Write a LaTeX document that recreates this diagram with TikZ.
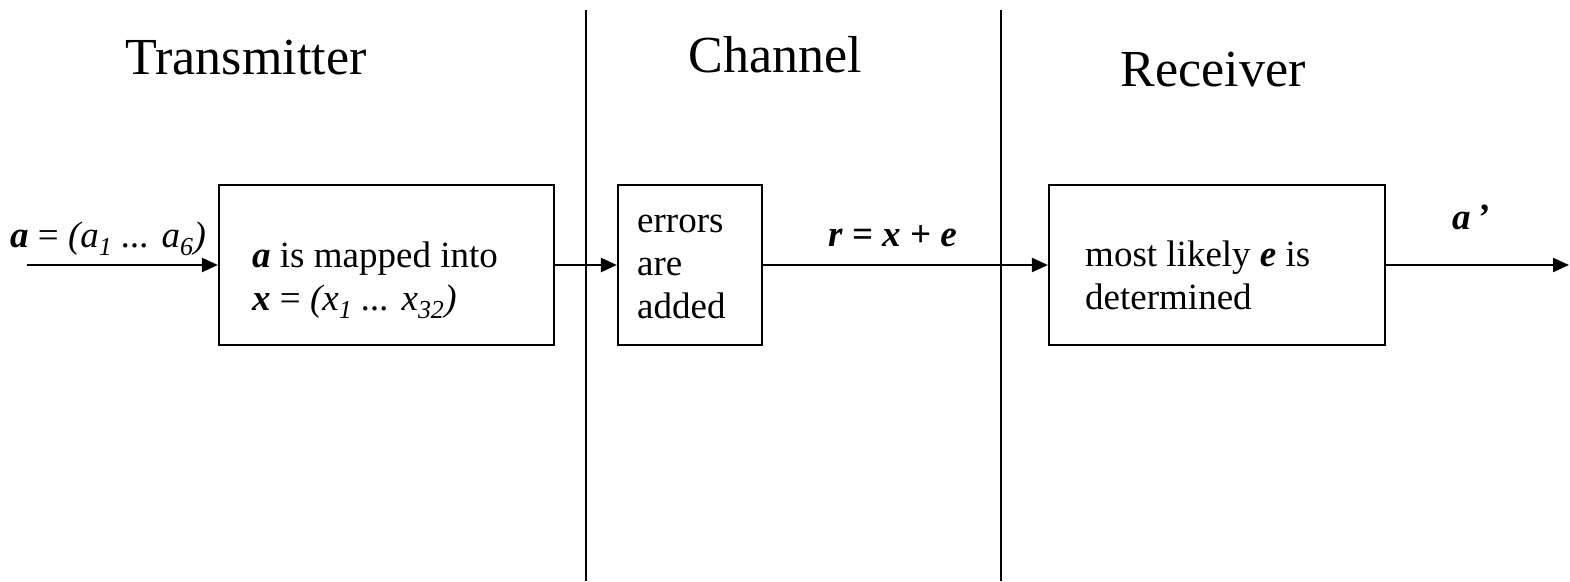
\documentclass[tikz,border=0pt]{standalone}
\usepackage{fontspec}
\setmainfont{Liberation Serif}
\usetikzlibrary{arrows.meta}
\begin{document}
\begin{tikzpicture}[x=1pt,y=-1pt,
  boxnode/.style={draw,line width=2.2pt,minimum height=160pt,inner sep=0pt},
  arr/.style={line width=2.2pt,-{Triangle[length=16pt,width=14pt]}},
  divider/.style={line width=2.2pt},
  txt/.style={inner sep=0pt,anchor=base west,font=\fontsize{37}{43}\selectfont},
  title/.style={inner sep=0pt,anchor=base,font=\fontsize{52}{60}\selectfont}]
\useasboundingbox (0,0) rectangle (1570,581);
% dividers
\coordinate (d1t) at (586,10);
\coordinate (d1b) at (586,581);
\coordinate (d2t) at (1001,10);
\coordinate (d2b) at (1001,581);
\draw[divider] (d1t) -- (d1b);
\draw[divider] (d2t) -- (d2b);
% titles
\node[title] (tt) at (246,74) {Transmitter};
\node[title] (tc) at (775,72) {Channel};
\node[title] (tr) at (1213,86) {Receiver};
% boxes
\node[boxnode,minimum width=335pt] (b1) at (386.5,265) {};
\node[boxnode,minimum width=144pt] (b2) at (690,265) {};
\node[boxnode,minimum width=336pt] (b3) at (1217,265) {};
% box texts
\node[txt] (b1a) at (252,267) {\textbf{\textit{a}} is mapped into};
\node[txt] (b1b) at (252,310) {\textbf{\textit{x}} = \textit{(x\textsubscript{1} ... x\textsubscript{32})}};
\node[txt] (b2a) at (637,232) {errors};
\node[txt] (b2b) at (637,275) {are};
\node[txt] (b2c) at (637,318) {added};
\node[txt] (b3a) at (1085,266) {most likely \textbf{\textit{e}} is};
\node[txt] (b3b) at (1085,309) {determined};
% connectors
\coordinate (in) at (27,265);
\coordinate (out) at (1569,265);
\draw[arr] (in) -- (b1.west);
\draw[arr] (b1.east) -- (b2.west);
\draw[arr] (b2.east) -- (b3.west);
\draw[arr] (b3.east) -- (out);
% labels
\node[txt] (la) at (10,247) {\textbf{\textit{a}} = \textit{(a\textsubscript{1} ... a\textsubscript{6})}};
\node[txt] (lr) at (828,246) {\textbf{\textit{r = x + e}}};
\node[txt] (lo) at (1452,229) {\textbf{\textit{a\,'}}};
\end{tikzpicture}
\end{document}
